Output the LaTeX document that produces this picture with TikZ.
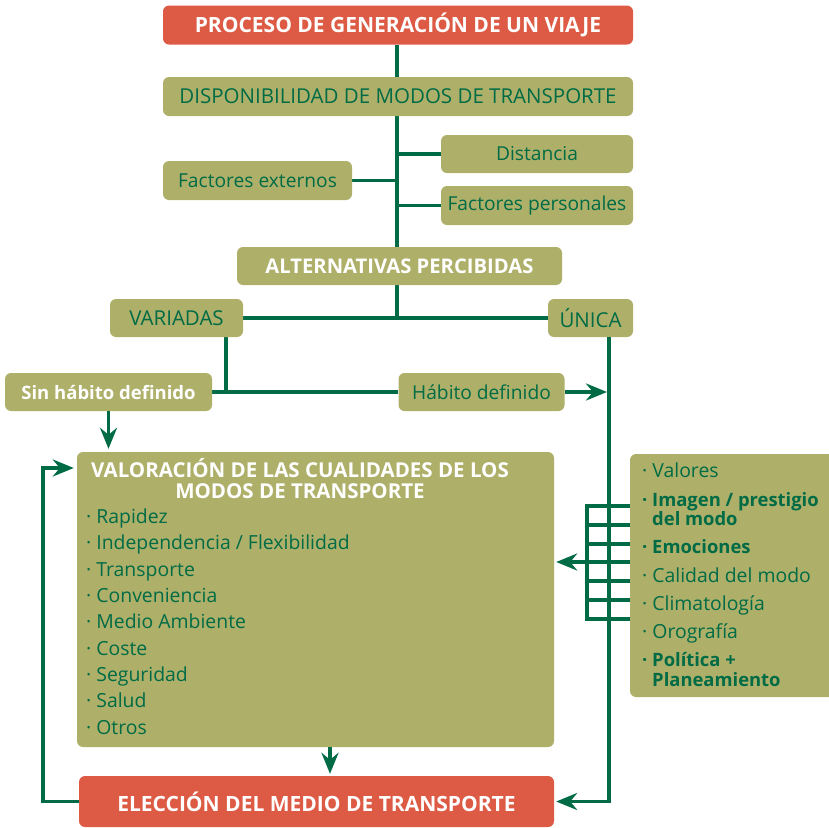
\documentclass[tikz,border=0pt]{standalone}
\usepackage{fontspec}
\setmainfont{Open Sans}
\usetikzlibrary{arrows.meta,backgrounds}
\definecolor{rojo}{HTML}{DD5B45}
\definecolor{oliva}{HTML}{AEB06A}
\definecolor{verde}{HTML}{006B45}
\tikzset{
 base/.style={rounded corners=6pt, inner sep=0pt, minimum height=38pt},
 redbox/.style={base, fill=rojo, text=white, font=\bfseries\fontsize{21}{23}\selectfont},
 olbox/.style={base, fill=oliva, text=verde, font=\fontsize{19.2}{21}\selectfont},
 olcaps/.style={base, fill=oliva, text=verde, font=\fontsize{20.5}{22}\selectfont},
 olboxw/.style={base, fill=oliva, text=white, font=\bfseries\fontsize{18.5}{21}\selectfont},
 olcapsw/.style={base, fill=oliva, text=white, font=\bfseries\fontsize{20.2}{22}\selectfont},
 conn/.style={draw=verde, line width=3.5pt},
 arr/.style={conn, -{Stealth[length=21pt,width=17pt,inset=7pt]}},
 item/.style={anchor=base west, inner sep=0pt, text=verde, font=\fontsize{19.4}{21}\selectfont},
 bitem/.style={item, font=\bfseries\fontsize{18.4}{20}\selectfont},
 ttl/.style={anchor=base, inner sep=0pt, text=white, font=\bfseries\fontsize{20.5}{22}\selectfont},
}
\begin{document}
\begin{tikzpicture}[x=1pt,y=-1pt]
\useasboundingbox (0,0) rectangle (828,828);
% boxes
\node[redbox, minimum width=470pt, minimum height=39pt] (top) at (398,25) {PROCESO DE GENERACIÓN DE UN VIAJE};
\node[olcaps, minimum width=470pt, minimum height=39pt] (disp) at (398,96.5) {DISPONIBILIDAD DE MODOS DE TRANSPORTE};
\node[olbox, minimum width=192pt] (dist) at (537,154) {Distancia};
\node[olbox, minimum width=189pt, minimum height=39pt] (fext) at (257.5,180.5) {Factores externos};
\node[olbox, minimum width=192pt, minimum height=39pt] (fper) at (537,205.5) {Factores personales};
\node[olcapsw, minimum width=325pt] (alt) at (399.5,266) {ALTERNATIVAS PERCIBIDAS};
\node[olcaps, minimum width=133pt] (var) at (176.5,318) {VARIADAS};
\node[olcaps, minimum width=85pt] (uni) at (590.5,318) {ÚNICA};
\node[olboxw, minimum width=207pt] (sin) at (108.5,392) {Sin hábito definido};
\node[olbox, minimum width=166pt] (hab) at (481.5,392) {Hábito definido};
\node[base, fill=oliva, minimum width=477pt, minimum height=295pt] (val) at (315.5,599.5) {};
\node[redbox, minimum width=475pt, minimum height=51pt] (elec) at (316.5,801.5) {ELECCIÓN DEL MEDIO DE TRANSPORTE};
\node[base, fill=oliva, minimum width=220pt, minimum height=243pt] (fac) at (740,575.5) {};
% title of valoracion
\node[ttl] (vt1) at (300,477) {VALORACIÓN DE LAS CUALIDADES DE LOS};
\node[ttl] (vt2) at (300,498) {MODOS DE TRANSPORTE};
% items valoracion
\node[item] (i1) at (86,523.5) {· Rapidez};
\node[item] (i2) at (86,549.5) {· Independencia / Flexibilidad};
\node[item] (i3) at (86,576) {· Transporte};
\node[item] (i4) at (86,602.5) {· Conveniencia};
\node[item] (i5) at (86,628.5) {· Medio Ambiente};
\node[item] (i6) at (86,655) {· Coste};
\node[item] (i7) at (86,681) {· Seguridad};
\node[item] (i8) at (86,707.5) {· Salud};
\node[item] (i9) at (86,734) {· Otros};
% items factores
\node[item] (f1) at (642,477.5) {· Valores};
\node[bitem] (f2) at (642,506.5) {· Imagen / prestigio};
\node[bitem] (f2b) at (642,525.5) {\phantom{· }del modo};
\node[bitem] (f3) at (642,553.5) {· Emociones};
\node[item] (f4) at (642,582.5) {· Calidad del modo};
\node[item] (f5) at (642,610.5) {· Climatología};
\node[item] (f6) at (642,638.5) {· Orografía};
\node[bitem] (f7) at (642,666.5) {· Política +};
\node[bitem] (f7b) at (642,686.5) {\phantom{· }Planeamiento};
% coordinates
\coordinate (sp) at (397,0);
\coordinate (vx) at (226,0);
\coordinate (ux) at (609,0);
\coordinate (gx) at (587,0);
\coordinate (ax) at (330,0);
\coordinate (fb) at (43,468);
% connectors
\begin{pgfonlayer}{background}
\draw[conn] (top.south -| sp) -- (alt.north -| sp);
\draw[conn] (dist.west) -- (dist.west -| sp);
\draw[conn] (fext.east) -- (fext.east -| sp);
\draw[conn] (fper.west) -- (fper.west -| sp);
\draw[conn] (alt.south -| sp) -- (var.east -| sp);
\draw[conn] (var.east) -- (uni.west);
\draw[conn] (var.south -| vx) -- (sin.east -| vx);
\draw[conn] (sin.east) -- (hab.west);
\end{pgfonlayer}
\draw[arr, shorten >=2pt] (hab.east) -- (hab.east -| ux);
\draw[arr, shorten >=2pt, rounded corners=0pt] (uni.south -| ux) |- (elec.east);
\draw[arr, shorten >=3pt] (sin.south) -- (sin.south |- val.north);
\draw[arr, shorten >=2pt] (val.south -| ax) -- (elec.north -| ax);
\draw[arr, shorten >=3pt] (elec.west) -| (fb) -- (fb -| val.west);
% grid
\foreach \yy in {506,525,544,562,581,600,619}
  \draw[conn] (gx |- 0,\yy) -- (fac.west |- 0,\yy);
\draw[conn] (gx |- 0,504.25) -- (gx |- 0,620.75);
\draw[arr, shorten >=2pt] (gx |- 0,562) -- (val.east |- 0,562);
\end{tikzpicture}
\end{document}
